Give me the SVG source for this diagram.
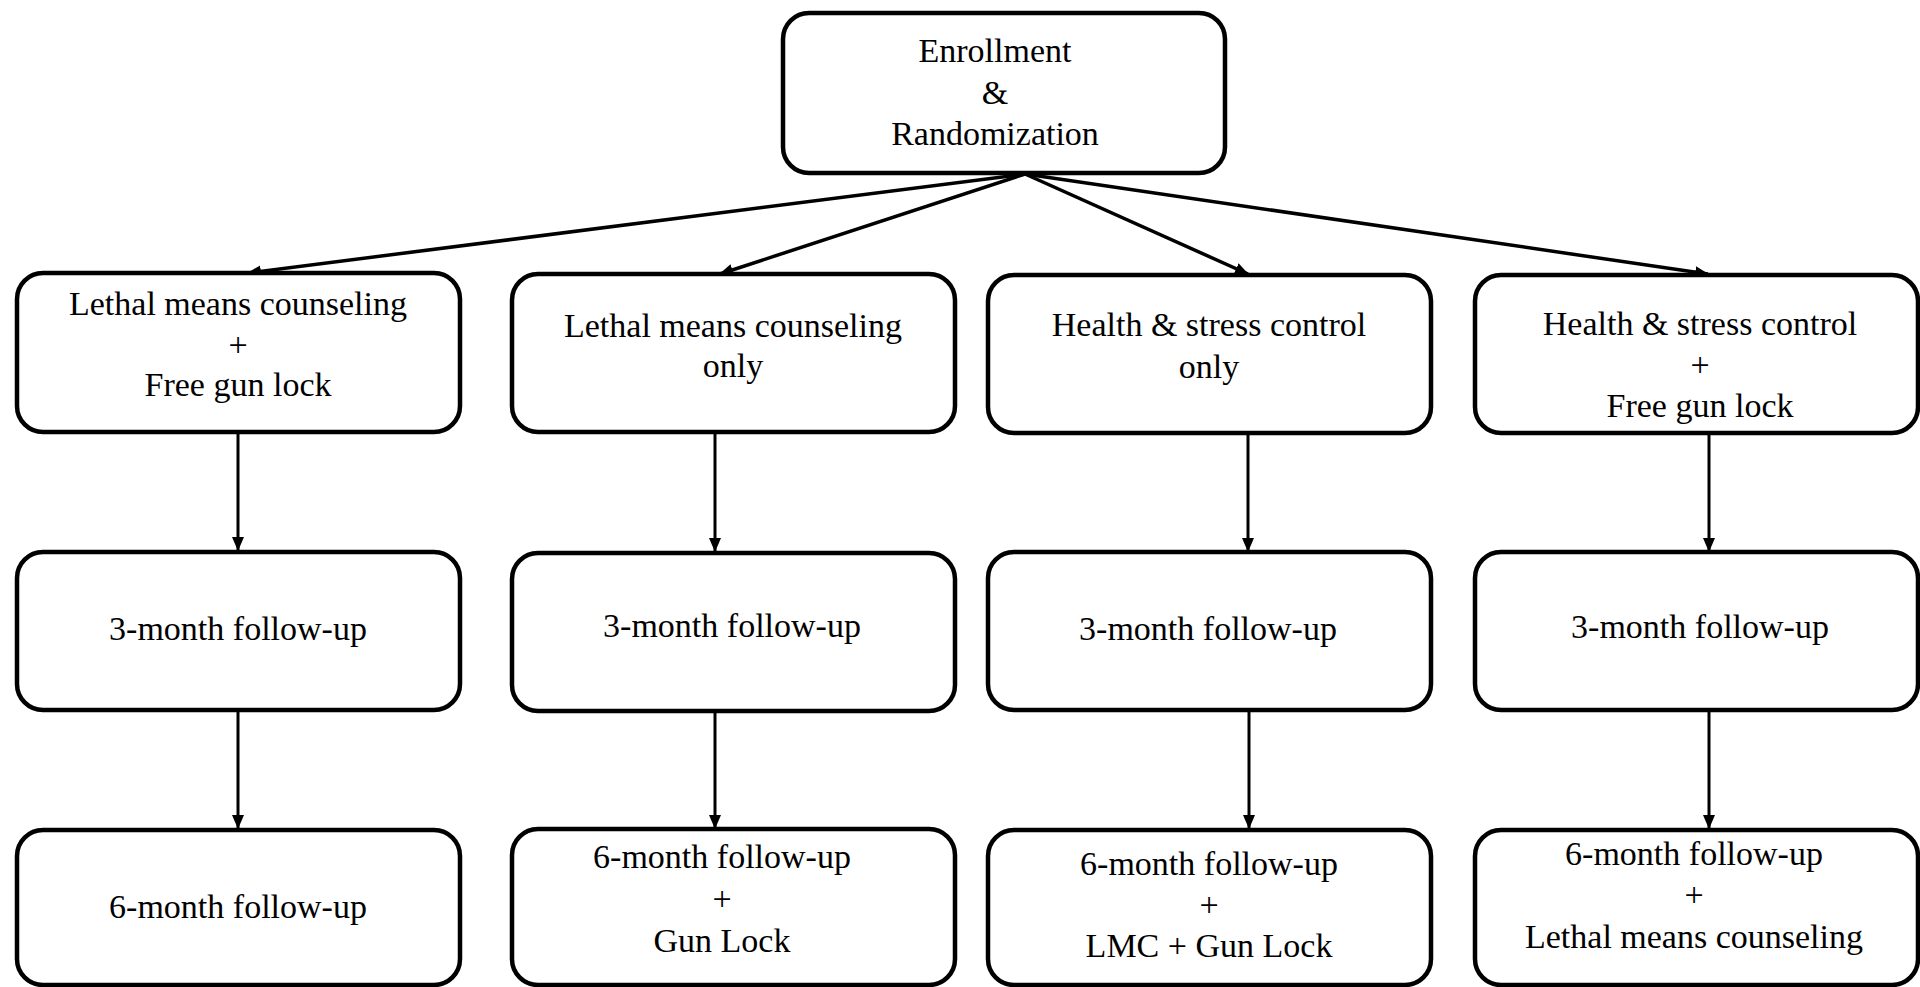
<svg xmlns="http://www.w3.org/2000/svg" width="1920" height="987" viewBox="0 0 1920 987">
  <style>
    .box { fill: #ffffff; stroke: #000000; stroke-width: 4.5; }
    .lbl { font-family: 'Liberation Serif', 'DejaVu Serif', serif; font-size: 34px; fill: #000000; text-anchor: middle; }
    .diag { stroke: #000000; stroke-width: 3.5; fill: none; }
    .vert { stroke: #000000; stroke-width: 3; fill: none; }
  </style>
  <defs>
    <marker id="arrow" markerUnits="userSpaceOnUse" markerWidth="14" markerHeight="14" viewBox="0 0 14 14" refX="13" refY="7" orient="auto">
      <path d="M0,1 L14,7 L0,13 z" fill="#000000"/>
    </marker>
  </defs>
  <rect width="1920" height="987" fill="#ffffff"/>

  <!-- connectors -->
  <g id="connectors">
    <line class="diag" x1="1025" y1="174" x2="248" y2="273" marker-end="url(#arrow)"/>
    <line class="diag" x1="1025" y1="174" x2="720" y2="274" marker-end="url(#arrow)"/>
    <line class="diag" x1="1025" y1="174" x2="1248" y2="274" marker-end="url(#arrow)"/>
    <line class="diag" x1="1025" y1="174" x2="1708" y2="274" marker-end="url(#arrow)"/>
    <line class="vert" x1="238" y1="432" x2="238" y2="550" marker-end="url(#arrow)"/>
    <line class="vert" x1="715" y1="432" x2="715" y2="551" marker-end="url(#arrow)"/>
    <line class="vert" x1="1248" y1="432" x2="1248" y2="551" marker-end="url(#arrow)"/>
    <line class="vert" x1="1709" y1="432" x2="1709" y2="551" marker-end="url(#arrow)"/>
    <line class="vert" x1="238" y1="710" x2="238" y2="828" marker-end="url(#arrow)"/>
    <line class="vert" x1="715" y1="710" x2="715" y2="828" marker-end="url(#arrow)"/>
    <line class="vert" x1="1249" y1="710" x2="1249" y2="828" marker-end="url(#arrow)"/>
    <line class="vert" x1="1709" y1="710" x2="1709" y2="828" marker-end="url(#arrow)"/>
  </g>

  <!-- enrollment -->
  <g id="enrollment">
    <rect class="box" x="783" y="13" width="442" height="160" rx="26"/>
    <text class="lbl" x="995" y="62">Enrollment</text>
    <text class="lbl" x="995" y="104">&amp;</text>
    <text class="lbl" x="995" y="145">Randomization</text>
  </g>

  <!-- study arms -->
  <g id="arm1">
    <rect class="box" x="17" y="273" width="443" height="159" rx="26"/>
    <text class="lbl" x="238" y="315">Lethal means counseling</text>
    <text class="lbl" x="238" y="356">+</text>
    <text class="lbl" x="238" y="396">Free gun lock</text>
  </g>
  <g id="arm2">
    <rect class="box" x="512" y="274" width="443" height="158" rx="26"/>
    <text class="lbl" x="733" y="337">Lethal means counseling</text>
    <text class="lbl" x="733" y="377">only</text>
  </g>
  <g id="arm3">
    <rect class="box" x="988" y="275" width="443" height="158" rx="26"/>
    <text class="lbl" x="1209" y="336">Health &amp; stress control</text>
    <text class="lbl" x="1209" y="378">only</text>
  </g>
  <g id="arm4">
    <rect class="box" x="1475" y="275" width="443" height="158" rx="26"/>
    <text class="lbl" x="1700" y="335">Health &amp; stress control</text>
    <text class="lbl" x="1700" y="376">+</text>
    <text class="lbl" x="1700" y="417">Free gun lock</text>
  </g>

  <!-- 3-month follow-up -->
  <g id="fu3-1">
    <rect class="box" x="17" y="552" width="443" height="158" rx="26"/>
    <text class="lbl" x="238" y="640">3-month follow-up</text>
  </g>
  <g id="fu3-2">
    <rect class="box" x="512" y="553" width="443" height="158" rx="26"/>
    <text class="lbl" x="732" y="637">3-month follow-up</text>
  </g>
  <g id="fu3-3">
    <rect class="box" x="988" y="552" width="443" height="158" rx="26"/>
    <text class="lbl" x="1208" y="640">3-month follow-up</text>
  </g>
  <g id="fu3-4">
    <rect class="box" x="1475" y="552" width="443" height="158" rx="26"/>
    <text class="lbl" x="1700" y="638">3-month follow-up</text>
  </g>

  <!-- 6-month follow-up -->
  <g id="fu6-1">
    <rect class="box" x="17" y="830" width="443" height="155" rx="26"/>
    <text class="lbl" x="238" y="918">6-month follow-up</text>
  </g>
  <g id="fu6-2">
    <rect class="box" x="512" y="829" width="443" height="156" rx="26"/>
    <text class="lbl" x="722" y="868">6-month follow-up</text>
    <text class="lbl" x="722" y="910">+</text>
    <text class="lbl" x="722" y="952">Gun Lock</text>
  </g>
  <g id="fu6-3">
    <rect class="box" x="988" y="830" width="443" height="155" rx="26"/>
    <text class="lbl" x="1209" y="875">6-month follow-up</text>
    <text class="lbl" x="1209" y="916">+</text>
    <text class="lbl" x="1209" y="957">LMC + Gun Lock</text>
  </g>
  <g id="fu6-4">
    <rect class="box" x="1475" y="830" width="443" height="155" rx="26"/>
    <text class="lbl" x="1694" y="865">6-month follow-up</text>
    <text class="lbl" x="1694" y="906">+</text>
    <text class="lbl" x="1694" y="948">Lethal means counseling</text>
  </g>
</svg>
